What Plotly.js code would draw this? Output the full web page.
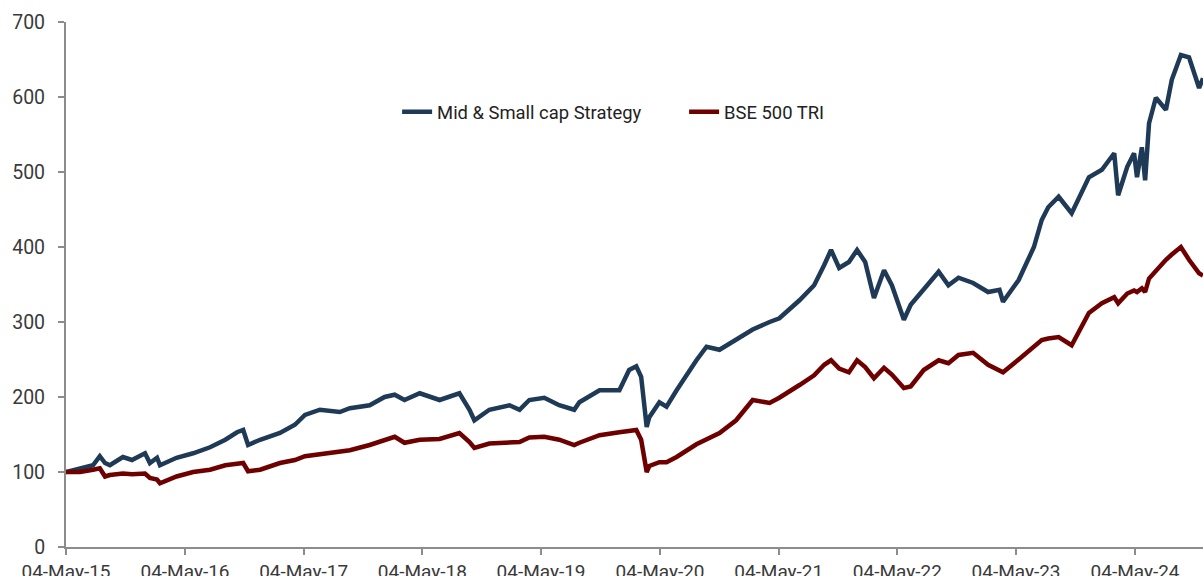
<!DOCTYPE html>
<html>
<head>
<meta charset="utf-8">
<script src="https://cdn.plot.ly/plotly-3.0.1.min.js"></script>
<style>
html,body{margin:0;padding:0;background:#fff;}
#chart{width:1203px;height:576px;}
</style>
</head>
<body>
<div id="chart"></div>
<script>
const dates = [
"2015-05-04","2015-06-16","2015-07-26","2015-08-16","2015-09-01","2015-09-16","2015-10-26","2015-11-23",
"2016-01-02","2016-01-17","2016-02-08","2016-02-17","2016-04-08","2016-05-29","2016-07-20","2016-09-05",
"2016-10-11","2016-10-30","2016-11-14","2016-12-21","2017-02-20","2017-04-07","2017-05-08","2017-06-23",
"2017-08-23","2017-09-23","2017-11-23","2018-01-08","2018-02-08","2018-03-10","2018-04-26","2018-06-26",
"2018-08-26","2018-09-26","2018-10-11","2018-11-26","2019-01-27","2019-02-27","2019-03-29","2019-05-14",
"2019-06-29","2019-08-14","2019-08-30","2019-10-31","2019-12-31","2020-01-30","2020-02-21","2020-03-07",
"2020-03-24","2020-04-01","2020-05-02","2020-05-24","2020-06-24","2020-08-24","2020-09-24","2020-11-03",
"2020-12-24","2021-02-13","2021-04-06","2021-05-06","2021-07-07","2021-08-21","2021-09-21","2021-10-12",
"2021-11-06","2021-12-06","2021-12-31","2022-01-25","2022-02-21","2022-03-24","2022-04-17","2022-05-24",
"2022-06-14","2022-07-24","2022-09-08","2022-10-08","2022-11-08","2022-12-23","2023-02-07","2023-03-14",
"2023-03-25","2023-05-12","2023-06-28","2023-07-22","2023-08-11","2023-09-12","2023-10-22","2023-12-14",
"2024-01-23","2024-03-01","2024-03-13","2024-04-10","2024-05-01","2024-05-10","2024-05-25","2024-06-04",
"2024-06-16","2024-07-07","2024-08-07","2024-08-25","2024-09-22","2024-10-17","2024-11-17","2024-11-29"
];
const midSmallCap = [
100,105,109,121,112,109,120,116,
125,112,119,109,119,125,133,143,
153,156,136,143,152,163,176,183,
180,185,189,200,203,196,205,196,
205,183,169,183,189,183,196,199,
189,183,193,209,209,236,241,227,
160,173,193,187,209,249,267,263,
276,290,300,305,329,349,376,396,
372,380,396,380,332,369,349,303,
323,343,367,349,359,352,340,343,
327,356,400,436,453,467,445,493,
503,525,469,507,525,493,533,489,
565,599,583,623,656,653,612,625
];
const bse500 = [
100,100,103,105,94,96,98,97,
98,92,90,85,94,100,103,109,
111,112,101,103,112,116,121,124,
127,129,136,142,147,139,143,144,
152,140,132,138,139,140,146,147,
143,136,139,149,153,155,156,143,
100,108,113,113,120,137,143,152,
169,196,192,199,216,229,243,249,
238,233,249,240,225,239,230,212,
214,236,249,245,256,259,243,236,
233,250,268,276,278,280,269,312,
325,333,325,338,342,340,345,340,
358,369,383,390,400,383,365,362
];
const seriesNames = ["Mid & Small cap Strategy","BSE 500 TRI"];
const yTicks = [0,100,200,300,400,500,600,700];

const axisColor = "#8c8c8c";
const textColor = "#3a3a3a";

const traces = [
  {x: dates, y: midSmallCap, name: seriesNames[0], type: "scatter", mode: "lines",
   line: {color: "#1f3a56", width: 4.5}},
  {x: dates, y: bse500, name: seriesNames[1], type: "scatter", mode: "lines",
   line: {color: "#6e0000", width: 4.5}}
];

const layout = {
  width: 1203, height: 576,
  margin: {l: 66, r: 0, t: 22, b: 29, pad: 0},
  paper_bgcolor: "#ffffff", plot_bgcolor: "#ffffff",
  font: {family: "Roboto, 'Noto Sans', sans-serif", color: textColor, size: 19},
  showlegend: true,
  legend: {orientation: "h", x: 0.2912, xanchor: "left", y: 0.829, yanchor: "middle",
           font: {size: 18.4, color: "#222"}, bgcolor: "rgba(0,0,0,0)", itemwidth: 30,
           entrywidth: 242, entrywidthmode: "pixels", traceorder: "normal"},
  xaxis: {
    type: "date", range: ["2015-05-04", "2024-11-29"],
    tick0: "2015-05-04", dtick: "M12", tickformat: "%d-%b-%y",
    showgrid: false, zeroline: false, showline: true, linecolor: axisColor, linewidth: 2,
    ticks: "outside", ticklen: 6, tickwidth: 2, tickcolor: axisColor,
    tickfont: {size: 19, color: textColor}, fixedrange: true
  },
  yaxis: {
    range: [0, 700], tickvals: yTicks, ticktext: yTicks.map(String),
    showgrid: false, zeroline: false, showline: true, linecolor: axisColor, linewidth: 2,
    ticks: "outside", ticklen: 6, tickwidth: 2, tickcolor: axisColor,
    ticklabelstandoff: 9,
    tickfont: {size: 19.5, color: textColor}, fixedrange: true
  },
  hovermode: false
};

Plotly.newPlot("chart", traces, layout, {displayModeBar: false, staticPlot: true});
</script>
</body>
</html>
